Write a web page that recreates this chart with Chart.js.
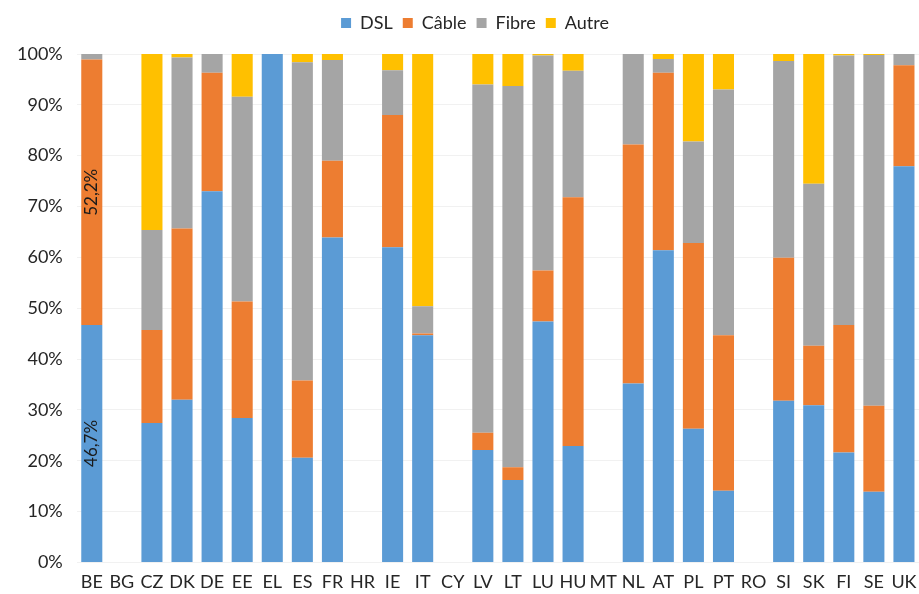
<!DOCTYPE html>
<html>
<head>
<meta charset="utf-8">
<script src="https://cdn.jsdelivr.net/npm/chart.js@4/dist/chart.umd.min.js"></script>
<style>
  html, body { margin: 0; padding: 0; background: #ffffff; }
  #wrap { width: 919px; height: 594px; }
</style>
</head>
<body>
<div id="wrap"><canvas id="c" width="919" height="594"></canvas></div>
<script>
// Pays (codes UE) et parts des technologies d'accès fixe, en %
const countries = ['BE','BG','CZ','DK','DE','EE','EL','ES','FR','HR','IE','IT','CY','LV','LT','LU','HU','MT','NL','AT','PL','PT','RO','SI','SK','FI','SE','UK'];
const dsl   = [46.7, null, 27.4, 32.0, 73.0, 28.4, 100, 20.6, 63.9, null, 62.0, 44.7, null, 22.1, 16.2, 47.4, 22.9, null, 35.2, 61.4, 26.3, 14.1, null, 31.8, 30.9, 21.6, 13.9, 77.9];
const cable = [52.2, null, 18.3, 33.7, 23.3, 22.9, 0,   15.2, 15.1, null, 26.0, 0.3,  null, 3.4,  2.5,  10.0, 48.9, null, 47.0, 34.9, 36.5, 30.6, null, 28.1, 11.7, 25.1, 16.9, 19.9];
const fibre = [1.1,  null, 19.7, 33.6, 3.7,  40.3, 0,   62.6, 19.8, null, 8.8,  5.4,  null, 68.5, 75.0, 42.3, 24.9, null, 17.8, 2.7,  20.0, 48.3, null, 38.7, 31.9, 53.0, 69.0, 2.2];
const autre = [0,    null, 34.6, 0.7,  0,    8.4,  0,   1.6,  1.2,  null, 3.2,  49.6, null, 6.0,  6.3,  0.3,  3.3,  null, 0,    1.0,  17.2, 7.0,  null, 1.4,  25.5, 0.3,  0.2,  0];
const yTicks = [0, 10, 20, 30, 40, 50, 60, 70, 80, 90, 100];
// valeurs affichées sur la barre BE
const labelled = { dataset: [0, 1], index: 0 };

const FONT = 'Lato';
const SIZE = 18;
const fmt = v => v.toFixed(1).replace('.', ',') + '%';

// Étiquettes de valeur verticales, centrées dans les segments choisis
const valueLabels = {
  id: 'valueLabels',
  afterDatasetsDraw(chart) {
    const ctx = chart.ctx;
    ctx.save();
    ctx.font = '17px ' + FONT;
    ctx.fillStyle = '#1a1a1a';
    ctx.textAlign = 'center';
    ctx.textBaseline = 'middle';
    labelled.dataset.forEach(di => {
      const el = chart.getDatasetMeta(di).data[labelled.index];
      const v = chart.data.datasets[di].data[labelled.index];
      const cy = (el.y + el.base) / 2;
      ctx.save();
      ctx.translate(el.x, cy);
      ctx.rotate(-Math.PI / 2);
      ctx.fillText(fmt(v), 0, 0);
      ctx.restore();
    });
    ctx.restore();
  }
};

// Espace supplémentaire sous la légende, légende légèrement décalée à droite
const legendGap = {
  id: 'legendGap',
  beforeInit(chart) {
    const fit = chart.legend.fit;
    chart.legend.fit = function () {
      fit.bind(chart.legend)();
      this.height += 12;
    };
  },
  afterLayout(chart) {
    chart.legend.left += 14;
    chart.legend.right += 14;
  }
};

const mk = (label, data, color) => ({
  label, data, backgroundColor: color, borderWidth: 0,
  categoryPercentage: 1.0, barPercentage: 0.7
});

new Chart(document.getElementById('c'), {
  type: 'bar',
  data: {
    labels: countries,
    datasets: [
      mk('DSL', dsl, '#5B9BD5'),
      mk('Câble', cable, '#ED7D31'),
      mk('Fibre', fibre, '#A5A5A5'),
      mk('Autre', autre, '#FFC000')
    ]
  },
  options: {
    responsive: false,
    animation: false,
    layout: { padding: { left: 3, right: 0, top: 4, bottom: 0 } },
    plugins: {
      legend: {
        position: 'top',
        labels: {
          font: { family: FONT, size: SIZE },
          color: '#262626',
          boxWidth: 10, boxHeight: 10,
          padding: 10
        }
      },
      tooltip: { enabled: false }
    },
    scales: {
      x: {
        stacked: true,
        grid: { display: false },
        border: { display: false },
        ticks: { font: { family: FONT, size: SIZE }, color: '#262626', maxRotation: 0, autoSkip: false, padding: 1 }
      },
      y: {
        stacked: true,
        min: 0, max: 100,
        afterBuildTicks: axis => { axis.ticks = yTicks.map(v => ({ value: v })); },
        grid: { color: '#f1f1f1', drawTicks: false },
        border: { display: false },
        ticks: { font: { family: FONT, size: SIZE }, color: '#262626', padding: 14, callback: v => v + '%' }
      }
    }
  },
  plugins: [valueLabels, legendGap]
});
</script>
</body>
</html>
